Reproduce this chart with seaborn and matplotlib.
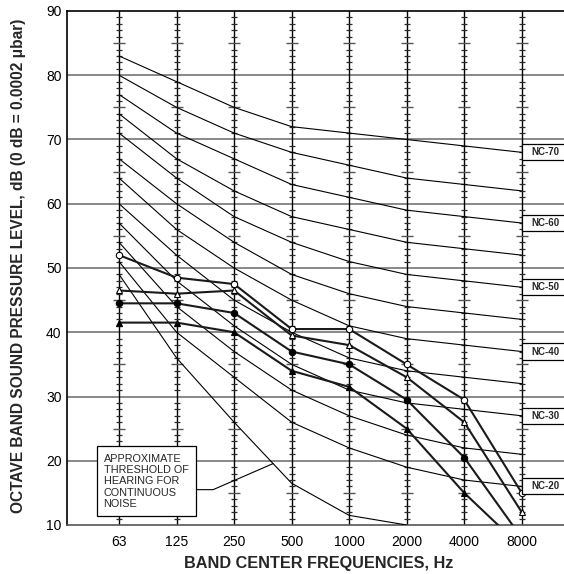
import numpy as np
import pandas as pd
import matplotlib
matplotlib.use("Agg")
import matplotlib.pyplot as plt
from matplotlib.patches import Rectangle
import seaborn as sns

# ---------------- data ----------------
bands = ["63", "125", "250", "500", "1000", "2000", "4000", "8000"]

nc_20 = [51, 40, 33, 26, 22, 19, 17, 16]
nc_25 = [54, 44, 37, 31, 27, 24, 22, 21]
nc_30 = [57, 48, 41, 35, 31, 29, 28, 27]
nc_35 = [60, 52, 45, 40, 36, 34, 33, 32]
nc_40 = [64, 56, 50, 45, 41, 39, 38, 37]
nc_45 = [67, 60, 54, 49, 46, 44, 43, 42]
nc_50 = [71, 64, 58, 54, 51, 49, 48, 47]
nc_55 = [74, 67, 62, 58, 56, 54, 53, 52]
nc_60 = [77, 71, 67, 63, 61, 59, 58, 57]
nc_65 = [80, 75, 71, 68, 66, 64, 63, 62]
nc_70 = [83, 79, 75, 72, 71, 70, 69, 68]

nc_names = ["NC-20", "NC-25", "NC-30", "NC-35", "NC-40", "NC-45",
            "NC-50", "NC-55", "NC-60", "NC-65", "NC-70"]
nc_curves = [nc_20, nc_25, nc_30, nc_35, nc_40, nc_45,
             nc_50, nc_55, nc_60, nc_65, nc_70]
labelled_nc = ["NC-20", "NC-30", "NC-40", "NC-50", "NC-60", "NC-70"]

# approximate threshold of hearing for continuous noise (63 .. 2000 Hz)
threshold = [49, 36, 26, 16.5, 11.5, 10]

open_circle = [52, 48.5, 47.5, 40.5, 40.5, 35, 29.5, 15]
open_triangle = [46.5, 46, 46.5, 39.5, 38, 33, 26, 12]
filled_circle = [44.5, 44.5, 43, 37, 35, 29.5, 20.5, 8]
filled_triangle = [41.5, 41.5, 40, 34, 31.5, 25, 15, 6.5]

# ---------------- tables ----------------
pos = np.arange(len(bands))
nc_df = pd.DataFrame({
    "pos": np.tile(pos, len(nc_names)),
    "spl": np.concatenate(nc_curves),
    "curve": np.repeat(nc_names, len(bands)),
})
thr_df = pd.DataFrame({"pos": pos[:len(threshold)], "spl": threshold})

# ---------------- figure ----------------
sns.set_style("white")
plt.rcParams["font.family"] = ["Liberation Sans", "DejaVu Sans"]

W, H = 564, 574
fig = plt.figure(figsize=(W / 100, H / 100), dpi=100)
ax = fig.add_axes([67 / W, 1 - 525 / H, 1 - 67 / W, (525 - 11) / H])
ax.set_xlim(-0.905, 7.735)
ax.set_ylim(10, 90)

# horizontal grid
for v in range(20, 90, 10):
    ax.axhline(v, color="#6e6e6e", lw=1.15, zorder=1)

# vertical band lines with dB scale ticks
minor = np.arange(11, 90)
short = minor[minor % 5 != 0]
long_ = minor[(minor % 5 == 0) & (minor % 10 != 0)]
for i in pos:
    ax.axvline(i, color="black", lw=1.0, zorder=2)
    ax.plot(np.full(short.size, i), short, ls="none", marker="_", ms=4.3,
            mew=0.9, color="#2a2a2a", zorder=2)
    ax.plot(np.full(long_.size, i), long_, ls="none", marker="_", ms=8.6,
            mew=1.0, color="#555555", zorder=2)

# NC curves
sns.lineplot(data=nc_df, x="pos", y="spl", units="curve", estimator=None,
             color="black", lw=0.8, ax=ax, zorder=3, legend=False)
# threshold curve
sns.lineplot(data=thr_df, x="pos", y="spl", color="black", lw=0.8, ax=ax,
             zorder=3, legend=False)

# measured spectra
series = [
    (open_circle, "o", "white"),
    (open_triangle, "^", "white"),
    (filled_circle, "o", "black"),
    (filled_triangle, "^", "black"),
]
for vals, mk, fc in series:
    d = pd.DataFrame({"pos": pos, "spl": vals})
    sns.lineplot(data=d, x="pos", y="spl", color="#1a1a1a", lw=1.5, ax=ax,
                 marker=mk, markersize=4.6, markerfacecolor=fc,
                 markeredgecolor="black", markeredgewidth=0.8, zorder=5,
                 legend=False)

# NC labels at the right
for name, vals in zip(nc_names, nc_curves):
    if name in labelled_nc:
        end = vals[-1]
        ax.add_patch(Rectangle((7, end - 1.25), 1.0, 2.5, facecolor="white",
                               edgecolor="black", lw=0.9, zorder=6))
        ax.text(7.16, end, name, fontsize=7, fontweight="bold", va="center",
                ha="left", zorder=7)

# threshold annotation box
ax.add_patch(Rectangle((-0.388, 11.46), 1.722, 10.78, facecolor="white",
                       edgecolor="black", lw=0.9, zorder=8))
ax.text(-0.27, 16.8, "APPROXIMATE\nTHRESHOLD OF\nHEARING FOR\nCONTINUOUS\nNOISE",
        fontsize=7.8, linespacing=1.15, ha="left", va="center", zorder=9)
tip_x = 2.678
tip_y = np.interp(tip_x, thr_df["pos"], thr_df["spl"])
ax.plot([1.334, 1.635, tip_x], [15.5, 15.5, tip_y], color="black", lw=0.8,
        zorder=4)

# axes styling
ax.set_xticks(pos)
ax.set_xticklabels(bands)
ax.set_yticks(range(10, 91, 10))
ax.tick_params(axis="both", length=0, labelsize=10, colors="black")
ax.tick_params(axis="y", pad=4)
ax.tick_params(axis="x", pad=7)
for s in ["top", "left"]:
    ax.spines[s].set_color("black")
    ax.spines[s].set_linewidth(1.2)
ax.spines["bottom"].set_color("#555555")
ax.spines["bottom"].set_linewidth(1.2)
ax.spines["right"].set_visible(False)

ax.set_xlabel("BAND CENTER FREQUENCIES, Hz", fontsize=11.7, fontweight="bold")
ax.set_ylabel("OCTAVE BAND SOUND PRESSURE LEVEL, dB (0 dB = 0.0002 \u03bcbar)",
              fontsize=11.2, fontweight="bold")
ax.xaxis.set_label_coords(0.507, -0.061)
ax.yaxis.set_label_coords(-0.083, 0.505)

fig.savefig("out.png", dpi=100)
